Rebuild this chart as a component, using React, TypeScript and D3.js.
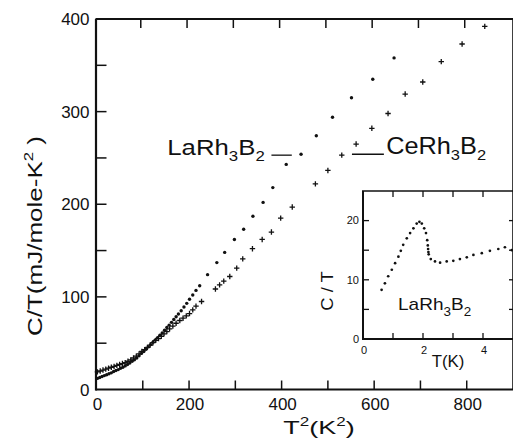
import React from 'react';
import * as d3 from 'd3';

const W = 513;
const H = 446;

// Main panel: LaRh3B2 (dots) — T^2 (K^2) vs C/T (mJ/mole-K^2)
const laT2 = [2, 7, 12, 17, 22, 27, 32, 37, 42, 47, 52, 57, 62, 67, 72, 77, 82, 87, 92, 97, 102, 107, 112, 117, 122, 127, 132, 137, 142, 147, 152, 157, 162, 167, 172, 177, 183, 189, 195, 201, 208, 215, 223, 240, 260, 277, 298, 318, 338, 360, 381, 410, 442, 475, 510, 551, 597, 643];
const laCT = [12, 13, 14, 15, 16, 17, 18, 19.5, 20.5, 21.5, 23, 24, 25.5, 27, 28.5, 30.5, 32, 34, 36.5, 39, 41, 43.5, 46, 48.5, 51, 53.5, 56, 58.5, 61, 64, 67, 69.5, 72.5, 75.5, 78.5, 81.5, 85, 89, 93, 97.5, 102, 107, 112, 124, 137, 148, 162, 173, 187, 202, 218, 243, 254, 274, 294, 315, 335, 358];

// CeRh3B2 (crosses)
const ceT2 = [2, 8, 14, 20, 26, 32, 38, 44, 50, 56, 62, 68, 74, 80, 86, 92, 98, 104, 110, 116, 122, 128, 134, 140, 146, 152, 158, 165, 172, 180, 187, 194, 201, 208, 215, 227, 257, 266, 275, 288, 303, 316, 337, 358, 378, 398, 423, 473, 500, 530, 561, 595, 630, 667, 705, 745, 790, 839];
const ceCT = [19, 20, 21, 22, 23, 24, 25, 26, 27, 28, 29, 30.5, 32, 34, 36, 38.5, 41, 43, 45.5, 48, 50.5, 53, 55, 57.5, 60, 62.5, 65.5, 68.5, 71.5, 74.5, 77, 79.5, 82, 86, 90, 95, 108.5, 113, 117, 122, 131, 141, 152, 162, 170, 185, 197, 222, 236.5, 253, 265, 282, 298, 319, 332, 354, 373, 392];

// Inset: LaRh3B2, T (K) vs C/T
const insetT = [0.62, 0.73, 0.84, 0.96, 1.07, 1.18, 1.26, 1.34, 1.46, 1.57, 1.68, 1.79, 1.88, 1.96, 2.04, 2.1, 2.14, 2.16, 2.17, 2.18, 2.19, 2.26, 2.4, 2.57, 2.79, 3.01, 3.23, 3.46, 3.68, 3.96, 4.23, 4.51, 4.73, 4.96];
const insetCT = [8.3, 9.4, 10.6, 11.7, 12.8, 13.9, 14.9, 15.9, 17.0, 17.9, 18.7, 19.5, 19.8, 19.5, 18.7, 17.9, 16.7, 15.8, 15.2, 14.7, 14.3, 13.5, 13.1, 12.9, 13.1, 13.2, 13.5, 13.8, 14.2, 14.5, 14.9, 15.2, 15.5, 15.0];

const xTicks = [100, 200, 300, 400, 500, 600, 700, 800];
const xTickLabels = [0, 200, 400, 600, 800];
const yTicks = [50, 100, 150, 200, 250, 300, 350];
const yTickLabels = [0, 100, 200, 300, 400];
const insetXTicks = [1, 2, 3, 4];
const insetXLabels = [0, 2, 4];
const insetYTicks = [5, 10, 15, 20];
const insetYLabels = [0, 10, 20];

// annotation anchors (data units)
const laLabelPos = [153, 253];
const laLeader = [378, 422, 253];
const ceLeader = [552, 621, 254];
const ceLabelPos = [626, 254];

const FONT = 'Liberation Sans, Arial, sans-serif';
const INK = '#111';

export default function App() {
  const x = d3.scaleLinear().domain([0, 900]).range([96.5, 513]);
  const y = d3.scaleLinear().domain([0, 400]).range([389.5, 19]);
  const xi = d3.scaleLinear().domain([0, 5]).range([363, 513]);
  const yi = d3.scaleLinear().domain([0, 25]).range([339, 191]);

  const x0 = x(0);
  const x1 = 513;
  const y0 = y(0);
  const yTop = y(400);

  const cross = 'M-2.7,0H2.7M0,-2.7V2.7';

  return (
    <svg width={W} height={H} style={{ position: 'absolute', left: 0, top: 0, background: '#fff' }} fontFamily={FONT}>
      <rect x={0} y={0} width={W} height={H} fill="#fff" />
      {/* main frame */}
      <g stroke={INK} fill="none">
        <line x1={x0 - 0.5} y1={yTop} x2={x0 - 0.5} y2={y0 + 1} strokeWidth={2.2} />
        <line x1={x0 - 1} y1={y0} x2={x1} y2={y0} strokeWidth={2.2} />
        <line x1={x0 - 1} y1={yTop} x2={x1} y2={yTop} strokeWidth={1.8} />
        <line x1={513} y1={yTop} x2={513} y2={y0} strokeWidth={1.6} />
        {yTicks.map((v) => (
          <line key={'yt' + v} x1={x0} x2={x0 + 10} y1={y(v)} y2={y(v)} strokeWidth={1.5} />
        ))}
        {xTicks.map((v) => (
          <line key={'xt' + v} x1={x(v)} x2={x(v)} y1={y0} y2={y0 - 9} strokeWidth={1.5} />
        ))}
        {xTicks.map((v) => (
          <line key={'xtt' + v} x1={x(v) - 2} x2={x(v) - 2} y1={yTop} y2={yTop + 9} strokeWidth={1.5} />
        ))}
      </g>
      {/* tick labels */}
      <g fill={INK} fontSize={17}>
        {yTickLabels.map((v) => (
          <text key={'yl' + v} x={x0 - 7} y={y(v)} dy="0.36em" textAnchor="end">{v}</text>
        ))}
        {xTickLabels.map((v) => (
          <text key={'xl' + v} x={x(v) + 1} y={y0 + 20} textAnchor="middle">{v}</text>
        ))}
      </g>
      {/* axis titles */}
      <g fill={INK}>
        <text transform={`translate(42,236) rotate(-90) scale(1.3,1)`} fontSize={20} textAnchor="middle">
          C/T(mJ/mole-K<tspan fontSize={13} dy={-9}>2</tspan><tspan dy={9}> )</tspan>
        </text>
        <text transform={`translate(319,434) scale(1.42,1)`} fontSize={19} textAnchor="middle">
          T<tspan fontSize={12} dy={-8}>2</tspan><tspan dy={8}>(K</tspan><tspan fontSize={12} dy={-8}>2</tspan><tspan dy={8}>)</tspan>
        </text>
      </g>
      {/* data */}
      <g fill={INK}>
        {laT2.map((t, i) => (
          <circle key={'la' + i} cx={x(t)} cy={y(laCT[i])} r={1.7} />
        ))}
      </g>
      <g stroke={INK} strokeWidth={1.3} fill="none">
        {ceT2.map((t, i) => (
          <path key={'ce' + i} d={cross} transform={`translate(${x(ceT2[i])},${y(ceCT[i])})`} />
        ))}
      </g>
      {/* annotations */}
      <g fill={INK}>
        <text transform={`translate(${x(laLabelPos[0])},${y(laLabelPos[1])}) scale(1.12,1)`} fontSize={23}>
          LaRh<tspan fontSize={15} dy={6}>3</tspan><tspan dy={-6}>B</tspan><tspan fontSize={15} dy={6}>2</tspan>
        </text>
        <text transform={`translate(${x(ceLabelPos[0])},${y(ceLabelPos[1])}) scale(1.1,1)`} fontSize={23}>
          CeRh<tspan fontSize={15} dy={6}>3</tspan><tspan dy={-6}>B</tspan><tspan fontSize={15} dy={6}>2</tspan>
        </text>
      </g>
      <g stroke={INK} strokeWidth={1.3}>
        <line x1={x(laLeader[0])} x2={x(laLeader[1])} y1={y(laLeader[2])} y2={y(laLeader[2])} />
        <line x1={x(ceLeader[0])} x2={x(ceLeader[1])} y1={y(ceLeader[2])} y2={y(ceLeader[2])} />
      </g>
      {/* inset */}
      <g>
        <rect x={xi(0)} y={yi(25)} width={xi(5) - xi(0)} height={yi(0) - yi(25)} fill="#fff" />
        <g stroke={INK} fill="none">
          <line x1={xi(0)} y1={yi(25)} x2={xi(0)} y2={yi(0) + 1} strokeWidth={2} />
          <line x1={xi(0) - 1} y1={yi(0)} x2={xi(5)} y2={yi(0)} strokeWidth={2} />
          <line x1={xi(0) - 1} y1={yi(25)} x2={xi(5)} y2={yi(25)} strokeWidth={1.6} />
          <line x1={513} y1={yi(25)} x2={513} y2={yi(0)} strokeWidth={1.6} />
          {insetYTicks.map((v) => (
            <line key={'iyt' + v} x1={xi(0)} x2={xi(0) + 6} y1={yi(v)} y2={yi(v)} strokeWidth={1.3} />
          ))}
          {insetYTicks.map((v) => (
            <line key={'iytr' + v} x1={xi(5) - 4} x2={xi(5)} y1={yi(v)} y2={yi(v)} strokeWidth={1.3} />
          ))}
          {insetXTicks.map((v) => (
            <line key={'ixt' + v} x1={xi(v)} x2={xi(v)} y1={yi(0)} y2={yi(0) - 6} strokeWidth={1.3} />
          ))}
          {insetXTicks.map((v) => (
            <line key={'ixtt' + v} x1={xi(v)} x2={xi(v)} y1={yi(25)} y2={yi(25) + 6} strokeWidth={1.3} />
          ))}
        </g>
        <g fill={INK} fontSize={11}>
          {insetYLabels.map((v) => (
            <text key={'iyl' + v} x={xi(0) - 4} y={yi(v)} dy="0.35em" textAnchor="end">{v}</text>
          ))}
          {insetXLabels.map((v) => (
            <text key={'ixl' + v} x={xi(v) + 1} y={yi(0) + 15} textAnchor="middle">{v}</text>
          ))}
        </g>
        <g fill={INK}>
          {insetT.map((t, i) => (
            <circle key={'in' + i} cx={xi(t)} cy={yi(insetCT[i])} r={1.35} />
          ))}
        </g>
        <g fill={INK}>
          <text transform={`translate(333,291) rotate(-90) scale(1.15,1)`} fontSize={16} textAnchor="middle">C / T</text>
          <text transform={`translate(448,367) scale(1.05,1)`} fontSize={16} textAnchor="middle">T(K)</text>
          <text transform={`translate(398,310) scale(1.12,1)`} fontSize={17}>
            LaRh<tspan fontSize={12} dy={6}>3</tspan><tspan dy={-6}>B</tspan><tspan fontSize={12} dy={6}>2</tspan>
          </text>
        </g>
      </g>
    </svg>
  );
}
